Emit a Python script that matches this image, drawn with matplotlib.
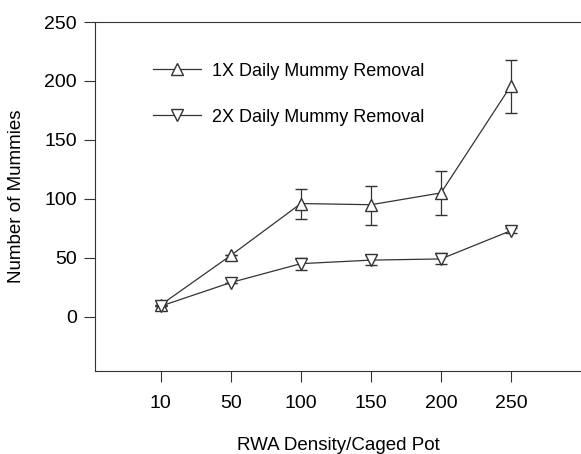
import matplotlib
matplotlib.use('Agg')
import matplotlib.pyplot as plt
from matplotlib.lines import Line2D
import numpy as np

plt.rcParams['font.family'] = ['Liberation Sans', 'DejaVu Sans']

density = ['10', '50', '100', '150', '200', '250']
one_x = np.array([10, 52, 96, 95, 105, 196])
one_x_lo = np.array([0, 0, 13, 17, 19, 23])
one_x_hi = np.array([0, 0, 12, 16, 19, 22])
two_x = np.array([9, 29, 45, 48, 49, 73])
two_x_lo = np.array([0, 0, 5, 4, 4, 2])
two_x_hi = np.array([0, 0, 5, 4, 5, 2])
labels = ['1X Daily Mummy Removal', '2X Daily Mummy Removal']

fig = plt.figure(figsize=(5.81, 4.54), dpi=100)
ax = fig.add_axes([0.1635, 0.183, 0.8365, 0.7685])

x = np.arange(len(density))
c = '#333333'
style = dict(color=c, lw=0.9, ms=9, mfc='white', mec=c, mew=1.0,
             capsize=4, elinewidth=0.9)
ax.errorbar(x, one_x, yerr=[one_x_lo, one_x_hi], marker='^', **style)
ax.errorbar(x, two_x, yerr=[two_x_lo, two_x_hi], marker='v', **style)

ax.set_xlim(-0.94, 6.0)
ax.set_ylim(-46, 250)
ax.set_xticks(x)
ax.set_xticklabels(density)
ax.set_yticks([0, 50, 100, 150, 200, 250])
ax.tick_params(labelsize=14, length=8, width=0.8, color=c)
ax.tick_params(axis='x', pad=9)
ax.tick_params(axis='y', pad=5)
for s in ['left', 'bottom', 'top']:
    ax.spines[s].set_color(c)
    ax.spines[s].set_linewidth(0.8)
ax.spines['right'].set_visible(False)

ax.set_xlabel('RWA Density/Caged Pot', fontsize=13.5, labelpad=18)
ax.set_ylabel('Number of Mummies', fontsize=13.5, labelpad=14)

handles = [Line2D([], [], color=c, lw=0.9, marker=m, ms=9, mfc='white',
                  mec=c, mew=1.0) for m in ['^', 'v']]
ax.legend(handles, labels, loc='upper left', bbox_to_anchor=(0.085, 0.93),
          frameon=False, fontsize=13, handlelength=2.7, labelspacing=1.6,
          handletextpad=0.6)

fig.savefig('out.png', dpi=100)
